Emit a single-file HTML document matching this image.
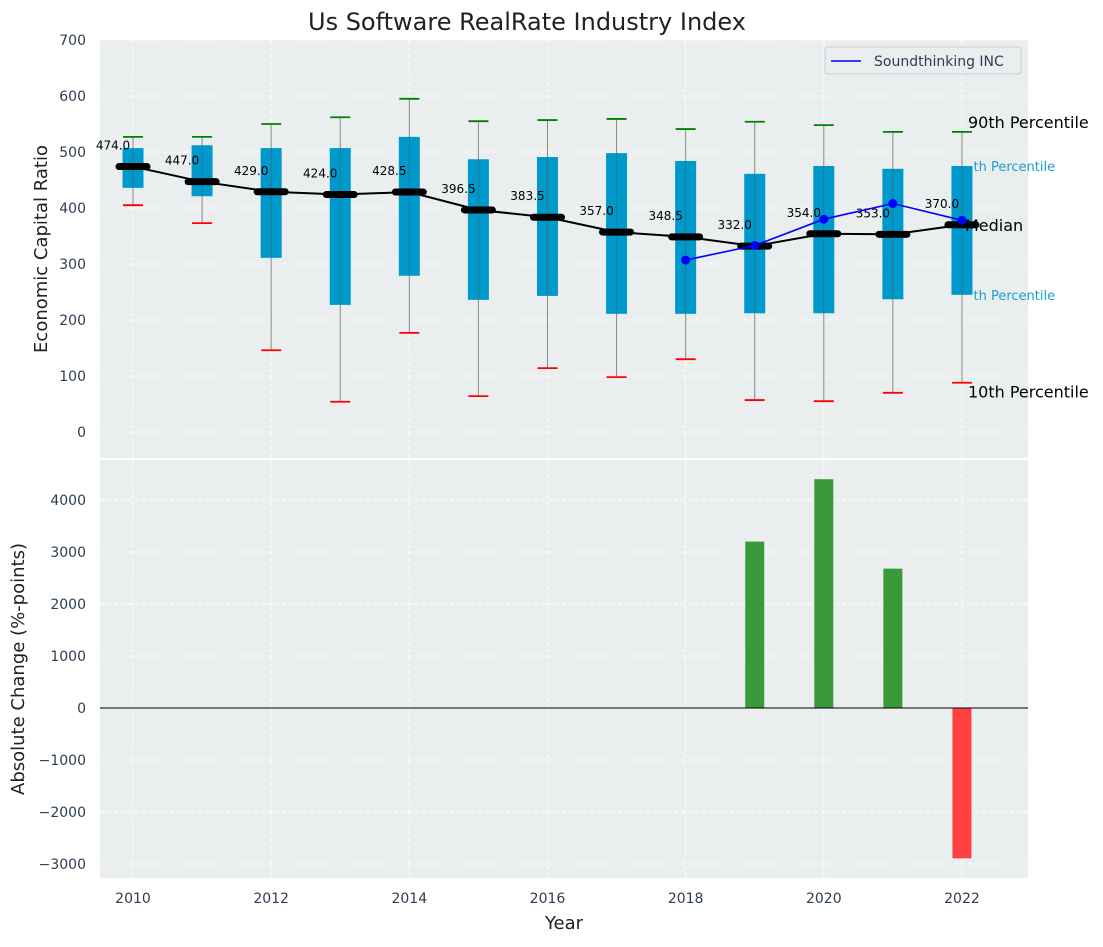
<!DOCTYPE html>
<html><head><meta charset="utf-8"><style>
body{margin:0;background:#fff;font-family:"Liberation Sans","DejaVu Sans",sans-serif}
svg text{font-family:"DejaVu Sans","Liberation Sans",sans-serif}
</style></head><body>
<svg id="chart" width="1103" height="942" xmlns="http://www.w3.org/2000/svg">
<defs><clipPath id="rclip"><rect x="973" y="0" width="200" height="942"/></clipPath></defs>
</svg>
<script>
const years=[2010,2011,2012,2013,2014,2015,2016,2017,2018,2019,2020,2021,2022];
const q1=[436,421,311,227,279,236,243,211,211,212,212,237,245];
const q3=[507,512,507,507,527,487,491,498,484,461,475,470,475];
const p10=[405,373,146,54,177,64,114,98,130,57,55,70,88];
const p90=[527,527,550,562,595,555,557,559,541,554,548,536,536];
const medians=[474.0,447.0,429.0,424.0,428.5,396.5,383.5,357.0,348.5,332.0,354.0,353.0,370.0];
const compYears=[2018,2019,2020,2021,2022];
const compVals=[307,333,380,408,378];
const chgYears=[2019,2020,2021,2022];
const chgVals=[3200,4400,2680,-2890];
const topTicks=[0,100,200,300,400,500,600,700];
const botTicks=[-3000,-2000,-1000,0,1000,2000,3000,4000];
const xTicks=[2010,2012,2014,2016,2018,2020,2022];

const NS='http://www.w3.org/2000/svg';
const svg=document.getElementById('chart');
function el(t,a,p){const e=document.createElementNS(NS,t);for(const k in a)e.setAttribute(k,a[k]);(p||svg).appendChild(e);return e;}
const X=v=>133+(v-2010)*69.08;
const Y1=v=>432-0.56*v;
const Y2=v=>708-0.052*v;
const L=100,R=1028;

let bg=el('rect',{x:L,y:40,width:R-L,height:418,fill:'#eaeeef'});


let bg2=el('rect',{x:L,y:460,width:R-L,height:418,fill:'#eaeeef'});



topTicks.forEach(t=>{el('line',{x1:L,x2:R,y1:Y1(t),y2:Y1(t),stroke:'#fff','stroke-dasharray':'4,3','stroke-width':1});
 let tx=el('text',{x:L-14,y:Y1(t)+5,'text-anchor':'end','font-size':14,fill:'#2d3e50'});tx.textContent=t;
 
 });
botTicks.forEach(t=>{el('line',{x1:L,x2:R,y1:Y2(t),y2:Y2(t),stroke:'#fff','stroke-dasharray':'4,3','stroke-width':1});
 let tx=el('text',{x:L-14,y:Y2(t)+5,'text-anchor':'end','font-size':14,fill:'#2d3e50'});tx.textContent=String(t).replace('-','\u2212');
 
 });
xTicks.forEach(t=>{el('line',{x1:X(t),x2:X(t),y1:40,y2:458,stroke:'#fff','stroke-dasharray':'4,3'});
 el('line',{x1:X(t),x2:X(t),y1:460,y2:878,stroke:'#fff','stroke-dasharray':'4,3'});
 let tx=el('text',{x:X(t),y:903,'text-anchor':'middle','font-size':14,fill:'#2d3e50'});tx.textContent=t;
 
 });

function lab(x,y,s,size,fill,name,clip){let t=el('text',{x:x,y:y,'font-size':size,fill:fill});t.textContent=s;
 if(clip)t.setAttribute('clip-path','url(#rclip)');
 
 }
const xl=X(2022);

years.forEach((yr,i)=>{const x=X(yr);
 el('line',{x1:x,x2:x,y1:Y1(p90[i]),y2:Y1(p10[i]),stroke:'#888','stroke-width':1});
 let b=el('rect',{x:x-10.5,y:Y1(q3[i]),width:21,height:Y1(q1[i])-Y1(q3[i]),fill:'#0099cc'});
 
 
 el('line',{x1:x,x2:x,y1:Y1(q3[i]),y2:Y1(q1[i]),stroke:'#555','stroke-width':0.8,opacity:0.6});
 el('line',{x1:x-10,x2:x+10,y1:Y1(p90[i]),y2:Y1(p90[i]),stroke:'green','stroke-width':1.8});
 el('line',{x1:x-10,x2:x+10,y1:Y1(p10[i]),y2:Y1(p10[i]),stroke:'red','stroke-width':1.8});
});

lab(xl+6,Y1(536)-4,'90th Percentile',16,'#000','label-90th');
lab(xl-5,Y1(475)+5,'75th Percentile',13,'#1a9fcf','label-75th',true);
lab(xl-5,Y1(245)+5,'25th Percentile',13,'#1a9fcf','label-25th',true);
lab(xl+6,Y1(88)+15,'10th Percentile',16,'#000','label-10th');
lab(xl+3,Y1(370)+6,'Median',16,'#000','label-median');

let mp=el('polyline',{points:years.map((y,i)=>X(y)+','+Y1(medians[i])).join(' '),fill:'none',stroke:'#000','stroke-width':2});


years.forEach((yr,i)=>{
 el('line',{x1:X(yr)-14,x2:X(yr)+14,y1:Y1(medians[i]),y2:Y1(medians[i]),stroke:'#000','stroke-width':7,'stroke-linecap':'round'});
 let t=el('text',{x:X(yr)-20,y:Y1(medians[i])-17,'text-anchor':'middle','font-size':12,fill:'#000'});t.textContent=medians[i].toFixed(1);
 
 });
let cp=el('polyline',{points:compYears.map((y,i)=>X(y)+','+Y1(compVals[i])).join(' '),fill:'none',stroke:'#0000ff','stroke-width':1.6});


compYears.forEach((y,i)=>{let c=el('circle',{cx:X(y),cy:Y1(compVals[i]),r:4.5,fill:'#0000ff'});
 
 });

let lg=el('g',{});


el('rect',{x:825,y:47,width:196,height:27,rx:3,fill:'#eaeeef',stroke:'#ccc'},lg);
el('line',{x1:831,x2:861,y1:61,y2:61,stroke:'#0000ff','stroke-width':1.6},lg);
let lt=el('text',{x:874,y:66,'font-size':14,fill:'#2d3e50'},lg);lt.textContent='Soundthinking INC';

chgYears.forEach((y,i)=>{const v=chgVals[i];
 let r=el('rect',{x:X(y)-9.5,y:Math.min(Y2(v),Y2(0)),width:19,height:Math.abs(Y2(v)-Y2(0)),fill:v>=0?'#3a9a3a':'#ff4040'});
 
 });
el('line',{x1:L,x2:R,y1:Y2(0),y2:Y2(0),stroke:'#000','stroke-width':1});

lab(308,30,'Us Software RealRate Industry Index',24,'#222','chart-title');
let yt=el('text',{transform:'translate(47,249) rotate(-90)','text-anchor':'middle','font-size':18,fill:'#222'});yt.textContent='Economic Capital Ratio';


let yt2=el('text',{transform:'translate(24,669) rotate(-90)','text-anchor':'middle','font-size':18,fill:'#222'});yt2.textContent='Absolute Change (%-points)';


let xt=el('text',{x:564,y:929,'text-anchor':'middle','font-size':18,fill:'#222'});xt.textContent='Year';


</script>
</body></html>
